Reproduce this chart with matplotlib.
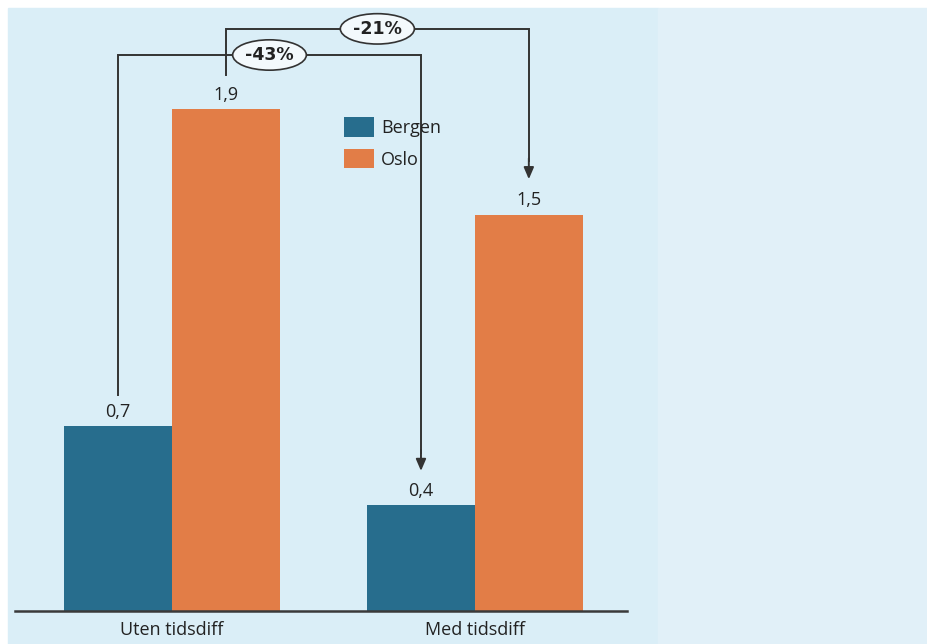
import matplotlib.pyplot as plt
import numpy as np
from matplotlib.patches import Rectangle

plt.rcParams['font.family'] = ['Open Sans', 'DejaVu Sans']

# --- data ---
categories = ['Uten tidsdiff', 'Med tidsdiff']
bergen = [0.7, 0.4]
oslo = [1.9, 1.5]
bergen_labels = ['0,7', '0,4']
oslo_labels = ['1,9', '1,5']
change_bergen = '-43%'
change_oslo = '-21%'

c_bergen = '#276d8d'
c_oslo = '#e27d47'
line_col = '#333333'

W, H = 928, 644
fig = plt.figure(figsize=(W / 100, H / 100), dpi=100, facecolor='white')

# background panels
fig.patches.append(Rectangle((8 / W, 0), (658 - 8) / W, (H - 8) / H,
                             transform=fig.transFigure, color='#daeef7', zorder=-2))
fig.patches.append(Rectangle((658 / W, 0), (W - 658) / W, (H - 8) / H,
                             transform=fig.transFigure, color='#e1f0f8', zorder=-2))

ax = fig.add_axes([15 / W, (H - 611) / H, (627 - 15) / W, (611 - 8) / H])
ax.patch.set_alpha(0)

x = np.arange(len(categories))
w = 0.356
bx = x - w / 2
ox = x + w / 2
ax.bar(bx, bergen, w, color=c_bergen, label='Bergen')
ax.bar(ox, oslo, w, color=c_oslo, label='Oslo')

for xi, v, s in zip(bx, bergen, bergen_labels):
    ax.annotate(s, (xi, v), xytext=(0, 4), textcoords='offset points',
                ha='center', va='bottom', fontsize=13, color='#222222')
for xi, v, s in zip(ox, oslo, oslo_labels):
    ax.annotate(s, (xi, v), xytext=(0, 4), textcoords='offset points',
                ha='center', va='bottom', fontsize=13, color='#222222')

ax.set_xlim(-0.518, 1.502)
ax.set_ylim(0, 2.284)
ax.set_xticks(x)
ax.set_xticklabels(categories, fontsize=13, color='#222222')
ax.tick_params(axis='x', length=0, pad=7)
ax.set_yticks([])
for side in ['top', 'right', 'left']:
    ax.spines[side].set_visible(False)
ax.spines['bottom'].set_color('#3a3a3a')
ax.spines['bottom'].set_linewidth(1.8)


def change_arrow(x0, x1, y0, y1, ytop, text):
    ax.plot([x0, x0, x1, x1], [y0, ytop, ytop, y1 + 0.08], color=line_col,
            lw=1.4, solid_joinstyle='miter', zorder=3)
    ax.annotate('', xy=(x1, y1), xytext=(x1, y1 + 0.1),
                arrowprops=dict(arrowstyle='-|>,head_length=0.7,head_width=0.3',
                                color=line_col, lw=1.4), zorder=3)
    ax.text((x0 + x1) / 2, ytop, text, ha='center', va='center', fontsize=12.5,
            fontweight='bold', family=['Liberation Sans Narrow', 'DejaVu Sans'],
            color='#222222', zorder=4,
            bbox=dict(boxstyle='ellipse,pad=0.1', fc='#f3f9fc', ec=line_col, lw=1.2))


change_arrow(bx[0], bx[1], bergen[0] + 0.12, bergen[1] + 0.12, 2.106, change_bergen)
change_arrow(ox[0], ox[1], oslo[0] + 0.13, oslo[1] + 0.125, 2.205, change_oslo)

fig.legend(loc='upper left', bbox_to_anchor=(335 / W, 1 - 108 / H), frameon=False,
           fontsize=13, handlelength=1.65, handleheight=1.3, labelspacing=0.65,
           handletextpad=0.4, borderpad=0, labelcolor='#222222')

fig.savefig('out.png', dpi=100, facecolor='white')
